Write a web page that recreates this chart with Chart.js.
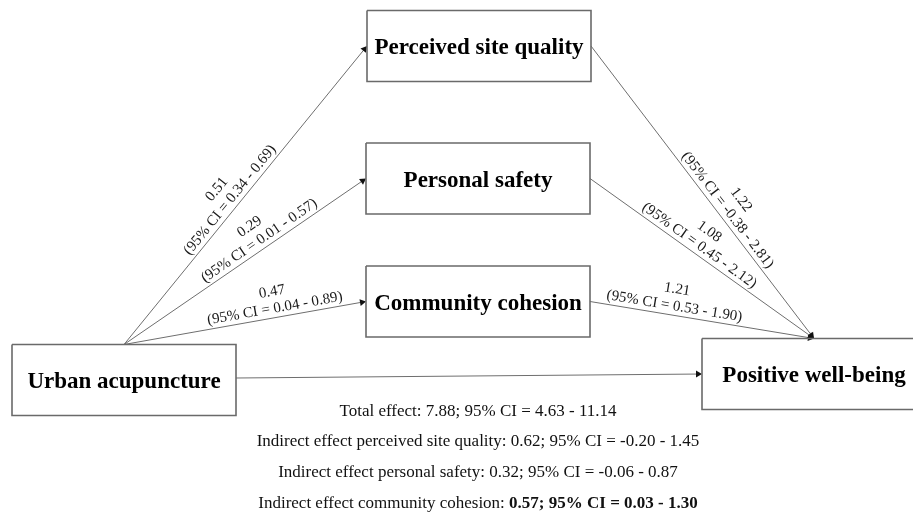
<!DOCTYPE html>
<html>
<head>
<meta charset="utf-8">
<script src="https://cdn.jsdelivr.net/npm/chart.js@4"></script>
<style>
  html, body { margin: 0; padding: 0; background: #fff; }
  #wrap { width: 913px; height: 519px; }
</style>
</head>
<body>
<div id="wrap"><canvas id="diagram"></canvas></div>
<script>
// mediation model values
const predictor = 'Urban acupuncture';
const outcome = 'Positive well-being';
const mediators = ['Perceived site quality', 'Personal safety', 'Community cohesion'];

// a paths: predictor -> mediator
const aCoef = [0.51, 0.29, 0.47];
const aLow = [0.34, 0.01, 0.04];
const aHigh = [0.69, 0.57, 0.89];

// b paths: mediator -> outcome
const bCoef = [1.22, 1.08, 1.21];
const bLow = [-0.38, 0.45, 0.53];
const bHigh = [2.81, 2.12, 1.90];

// total effect: estimate, CI low, CI high
const totalEffect = [7.88, 4.63, 11.14];

// indirect effects, one per mediator
const indirectNames = ['perceived site quality', 'personal safety', 'community cohesion'];
const indirectCoef = [0.62, 0.32, 0.57];
const indirectLow = [-0.20, -0.06, 0.03];
const indirectHigh = [1.45, 0.87, 1.30];
const indirectSignificant = [false, false, true];

// layout, in scale units (axes run 0..913 and 0..519, same as the page)
const BOX_W = 224, BOX_H = 71;
const predictorPos = [124, 380];
const outcomePos = [814, 374];
const mediatorPos = [[479, 46], [478, 178.5], [478, 301.5]];
const aLabelT = [0.465, 0.58, 0.63];
const bLabelT = [0.58, 0.465, 0.37];
const footerX = 478;
const footerY = [412, 442, 473, 504];

const SERIF = '"Liberation Serif", "Times New Roman", serif';
const LINE = '#6e6e6e';
const ARROW_R = 4;

const fmt = (v) => v.toFixed(2);
const ciText = (lo, hi) => `(95% CI = ${fmt(lo)} - ${fmt(hi)})`;

function edges([cx, cy]) {
  return { l: cx - BOX_W / 2, r: cx + BOX_W / 2, t: cy - BOX_H / 2, b: cy + BOX_H / 2 };
}

function boxDataset(pos) {
  const e = edges(pos);
  return {
    data: [
      { x: e.l, y: e.t }, { x: e.r, y: e.t }, { x: e.r, y: e.b },
      { x: e.l, y: e.b }, { x: e.l, y: e.t },
    ],
    showLine: true,
    borderColor: '#6a6a6a',
    borderWidth: 1.6,
    pointRadius: 0,
    fill: false,
  };
}

// line from -> to, with a small triangle whose tip lands on `to`
function arrowDataset(from, to) {
  const dx = to[0] - from[0], dy = to[1] - from[1];
  const len = Math.hypot(dx, dy);
  const tip = { x: to[0] - (dx / len) * ARROW_R, y: to[1] - (dy / len) * ARROW_R };
  return {
    data: [{ x: from[0], y: from[1] }, tip],
    showLine: true,
    borderColor: LINE,
    borderWidth: 1,
    pointRadius: [0, ARROW_R],
    pointStyle: 'triangle',
    rotation: (Math.atan2(dx, -dy) * 180) / Math.PI,
    pointBackgroundColor: '#111',
    pointBorderColor: '#111',
    pointBorderWidth: 0,
  };
}

const predE = edges(predictorPos);
const outE = edges(outcomePos);
const predTop = [predictorPos[0], predE.t];
const outTop = [outcomePos[0], outE.t];

const datasets = [];
const edgeLabels = [];
[predictorPos, outcomePos, ...mediatorPos].forEach((p) => datasets.push(boxDataset(p)));

mediatorPos.forEach((p, i) => {
  const e = edges(p);
  const left = [e.l, p[1]];
  const right = [e.r, p[1]];
  datasets.push(arrowDataset(predTop, left));
  datasets.push(arrowDataset(right, outTop));
  edgeLabels.push({ from: predTop, to: left, t: aLabelT[i], coef: fmt(aCoef[i]), ci: ciText(aLow[i], aHigh[i]) });
  edgeLabels.push({ from: right, to: outTop, t: bLabelT[i], coef: fmt(bCoef[i]), ci: ciText(bLow[i], bHigh[i]) });
});
// direct path
datasets.push(arrowDataset([predE.r, predictorPos[1] - 2], [outE.l, outcomePos[1]]));

const boxTitles = [[predictor, predictorPos], [outcome, outcomePos]]
  .concat(mediators.map((m, i) => [m, mediatorPos[i]]));

const footer = [
  { plain: `Total effect: ${fmt(totalEffect[0])}; 95% CI = ${fmt(totalEffect[1])} - ${fmt(totalEffect[2])}`, tail: '', bold: false },
].concat(indirectNames.map((n, i) => ({
  plain: `Indirect effect ${n}: `,
  tail: `${fmt(indirectCoef[i])}; 95% CI = ${fmt(indirectLow[i])} - ${fmt(indirectHigh[i])}`,
  bold: indirectSignificant[i],
})));

const diagramText = {
  id: 'diagramText',
  afterDatasetsDraw(chart) {
    const { ctx, scales: { x, y } } = chart;
    const px = (p) => [x.getPixelForValue(p[0]), y.getPixelForValue(p[1])];
    ctx.save();
    ctx.textAlign = 'center';
    ctx.textBaseline = 'middle';

    ctx.fillStyle = '#000';
    ctx.font = `bold 23px ${SERIF}`;
    boxTitles.forEach(([name, pos]) => {
      const [cx, cy] = px(pos);
      ctx.fillText(name, cx, cy + 2.5);
    });

    // path coefficients, written along each arrow
    ctx.font = `15px ${SERIF}`;
    ctx.fillStyle = '#1a1a1a';
    edgeLabels.forEach((l) => {
      const [x0, y0] = px(l.from);
      const [x1, y1] = px(l.to);
      const ang = Math.atan2(y1 - y0, x1 - x0);
      const nx = Math.sin(ang), ny = -Math.cos(ang);
      const bx = x0 + (x1 - x0) * l.t, by = y0 + (y1 - y0) * l.t;
      [[l.coef, 26], [l.ci, 9]].forEach(([txt, off]) => {
        ctx.save();
        ctx.translate(bx + nx * off, by + ny * off);
        ctx.rotate(ang);
        ctx.fillText(txt, 0, 0);
        ctx.restore();
      });
    });

    // effect summary under the diagram
    ctx.textAlign = 'left';
    ctx.fillStyle = '#111';
    const regular = `17px ${SERIF}`, heavy = `bold 17px ${SERIF}`;
    footer.forEach((row, i) => {
      ctx.font = regular;
      const w1 = ctx.measureText(row.plain).width;
      ctx.font = row.bold ? heavy : regular;
      const w2 = ctx.measureText(row.tail).width;
      const [cx, cy] = px([footerX, footerY[i]]);
      const x0 = cx - (w1 + w2) / 2;
      ctx.font = regular;
      ctx.fillText(row.plain, x0, cy);
      ctx.font = row.bold ? heavy : regular;
      ctx.fillText(row.tail, x0 + w1, cy);
    });
    ctx.restore();
  },
};

new Chart(document.getElementById('diagram'), {
  type: 'scatter',
  data: { datasets },
  options: {
    responsive: true,
    maintainAspectRatio: false,
    animation: false,
    events: [],
    layout: { padding: 0, autoPadding: false },
    plugins: { legend: { display: false }, tooltip: { enabled: false } },
    scales: {
      x: { type: 'linear', min: 0, max: 913, display: false },
      y: { type: 'linear', min: 0, max: 519, reverse: true, display: false },
    },
  },
  plugins: [diagramText],
});
</script>
</body>
</html>
